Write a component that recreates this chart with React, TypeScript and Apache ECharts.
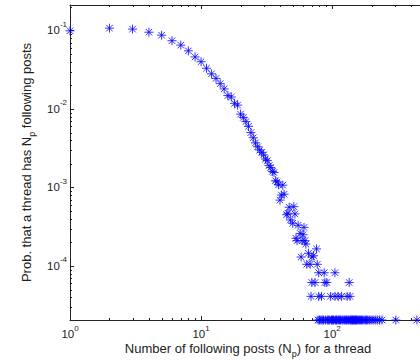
import React, { useEffect, useRef } from 'react';
import * as echarts from 'echarts';

// Number of following posts (Np) and probability that a thread has Np following posts
const numPosts = [
  1, 2, 3, 4, 5, 6, 7, 8, 9, 10,
  11, 12, 13, 14, 15, 16, 17, 18, 19, 20,
  21, 22, 23, 24, 25, 26, 27, 28, 29, 30,
  31, 32, 33, 34, 35, 36, 37, 38, 39, 40,
  41, 42, 43, 45, 46, 47, 48, 50, 51, 52,
  53, 54, 55, 57, 58, 59, 60, 61, 62, 63,
  64, 66, 68, 70, 72, 76, 77,
  79, 87, 105,
  70, 74, 88, 91, 135,
  69, 79, 83, 97, 105, 111, 118, 130, 137,
  78, 80, 82, 84, 86, 89, 92, 94, 96, 99,
  100, 102, 103, 106, 108, 109, 112, 114, 116, 119,
  121, 124, 127, 129, 132, 134, 137, 139, 141, 143,
  145, 147, 149, 151, 153, 155, 158, 161, 164, 167,
  171, 175, 179, 183, 187, 192, 198, 205, 213, 221,
  230, 240, 306, 443,
];
const probability = [
  0.099, 0.107, 0.104, 0.095, 0.087, 0.074, 0.065, 0.055, 0.046, 0.040,
  0.033, 0.028, 0.0245, 0.021, 0.018, 0.0148, 0.0142, 0.0118, 0.0112, 0.0086,
  0.0078, 0.0069, 0.006, 0.005, 0.0043, 0.0037, 0.0033, 0.003, 0.0028, 0.0026,
  0.0023, 0.0022, 0.0019, 0.0018, 0.0016, 0.00155, 0.00122, 0.00118, 0.00108, 0.00069,
  0.0008, 0.00107, 0.00082, 0.00045, 0.00047, 0.00056, 0.000385, 0.00035, 0.00057, 0.00046,
  0.000225, 0.00021, 0.00033, 0.00026, 0.00013, 0.00021, 0.00025, 0.00031, 0.00021, 0.00019,
  0.000105, 0.000145, 0.000105, 0.00013, 0.000135, 0.000165, 0.000105,
  0.000082, 0.000082, 0.000082,
  0.0000615, 0.0000615, 0.0000615, 0.0000615, 0.0000615,
  0.000041, 0.000041, 0.000041, 0.000041, 0.000041, 0.000041, 0.000041, 0.000041, 0.000041,
  0.0000205, 0.0000205, 0.0000205, 0.0000205, 0.0000205, 0.0000205, 0.0000205, 0.0000205, 0.0000205, 0.0000205,
  0.0000205, 0.0000205, 0.0000205, 0.0000205, 0.0000205, 0.0000205, 0.0000205, 0.0000205, 0.0000205, 0.0000205,
  0.0000205, 0.0000205, 0.0000205, 0.0000205, 0.0000205, 0.0000205, 0.0000205, 0.0000205, 0.0000205, 0.0000205,
  0.0000205, 0.0000205, 0.0000205, 0.0000205, 0.0000205, 0.0000205, 0.0000205, 0.0000205, 0.0000205, 0.0000205,
  0.0000205, 0.0000205, 0.0000205, 0.0000205, 0.0000205, 0.0000205, 0.0000205, 0.0000205, 0.0000205, 0.0000205,
  0.0000205, 0.0000205, 0.0000205, 0.0000205,
];

// axis ranges
const X_MIN = 1;
const X_MAX = 520;
const Y_MIN = 0.0000205;
const Y_MAX = 0.211;

// minor (log) tick values
const minorXTicks = [2, 3, 4, 5, 6, 7, 8, 9, 20, 30, 40, 50, 60, 70, 80, 90, 200, 300, 400, 500];
const minorYTicks = [
  0.00003, 0.00004, 0.00005, 0.00006, 0.00007, 0.00008, 0.00009,
  0.0002, 0.0003, 0.0004, 0.0005, 0.0006, 0.0007, 0.0008, 0.0009,
  0.002, 0.003, 0.004, 0.005, 0.006, 0.007, 0.008, 0.009,
  0.02, 0.03, 0.04, 0.05, 0.06, 0.07, 0.08, 0.09,
  0.2,
];

const X_TITLE = 'Number of following posts (N{sub|p}) for a thread';
const Y_TITLE = 'Prob. that a thread has N{sub|p} following posts';

const FONT = '"Liberation Sans", Arial, Helvetica, sans-serif';
const INK = '#222222';
const BLUE = '#0000ff';
const STAR = 'path://M0,-5L0,5M-5,0L5,0M-3.6,-3.6L3.6,3.6M-3.6,3.6L3.6,-3.6';

export default function App() {
  const ref = useRef<HTMLDivElement>(null);

  useEffect(() => {
    const chart = echarts.init(ref.current as HTMLDivElement, null, { renderer: 'svg' });

    const expLabel = (v: number) => `{b|10}{s|${Math.round(Math.log10(v))}}`;
    const labelRich = {
      b: { fontFamily: FONT, fontSize: 11.5, lineHeight: 20, color: INK },
      s: { fontFamily: FONT, fontSize: 8, lineHeight: 10, verticalAlign: 'top', color: INK },
    };
    const titleStyle = {
      fontFamily: FONT,
      fontSize: 13,
      lineHeight: 20,
      color: INK,
      rich: {
        sub: { fontFamily: FONT, fontSize: 9, lineHeight: 10, verticalAlign: 'bottom', color: INK },
      },
    };
    const axisLine = { show: true, onZero: false, lineStyle: { color: INK, width: 1 } };
    const majorTick = { show: true, inside: true, length: 4, lineStyle: { color: INK, width: 1 } };
    const baseX: any = {
      type: 'log', logBase: 10, min: X_MIN, max: X_MAX,
      splitLine: { show: false }, axisLine, axisTick: majorTick,
    };
    const baseY: any = {
      type: 'log', logBase: 10, min: Y_MIN, max: Y_MAX,
      splitLine: { show: false }, axisLine, axisTick: majorTick,
    };
    const tickLine = (x1: number, y1: number, x2: number, y2: number) => ({
      type: 'line',
      shape: { x1, y1, x2, y2 },
      style: { stroke: INK, lineWidth: 1 },
    });

    chart.setOption({
      animation: false,
      backgroundColor: '#ffffff',
      grid: { left: 70, top: 5, width: 356, height: 315, containLabel: false, outerBoundsMode: 'none' },
      xAxis: [
        {
          ...baseX,
          position: 'bottom',
          axisLabel: {
            formatter: expLabel, rich: labelRich, margin: 4,
            showMinLabel: true, showMaxLabel: false,
          },
          name: X_TITLE,
          nameLocation: 'middle',
          nameGap: 18,
          nameMoveOverlap: false,
          nameTextStyle: titleStyle,
        },
        { ...baseX, position: 'top', axisLabel: { show: false } },
      ],
      yAxis: [
        {
          ...baseY,
          position: 'left',
          axisLabel: {
            formatter: expLabel, rich: labelRich, margin: 3,
            showMinLabel: false, showMaxLabel: false,
          },
          name: Y_TITLE,
          nameLocation: 'middle',
          nameGap: 34,
          nameTextStyle: titleStyle,
        },
        { ...baseY, position: 'right', axisLabel: { show: false } },
      ],
      series: [
        {
          type: 'custom',
          coordinateSystem: 'cartesian2d',
          xAxisIndex: 0,
          yAxisIndex: 0,
          silent: true,
          clip: false,
          data: minorXTicks.map((v) => [v, Y_MIN]),
          encode: { x: 0, y: 1 },
          renderItem: (_p: any, api: any) => {
            const v = api.value(0);
            const b = api.coord([v, Y_MIN]);
            const t = api.coord([v, Y_MAX]);
            const x = Math.round(b[0]) + 0.5;
            return {
              type: 'group',
              children: [tickLine(x, b[1], x, b[1] - 2), tickLine(x, t[1], x, t[1] + 2)],
            };
          },
        },
        {
          type: 'custom',
          coordinateSystem: 'cartesian2d',
          xAxisIndex: 0,
          yAxisIndex: 0,
          silent: true,
          clip: false,
          data: minorYTicks.map((v) => [X_MIN, v]),
          encode: { x: 0, y: 1 },
          renderItem: (_p: any, api: any) => {
            const v = api.value(1);
            const l = api.coord([X_MIN, v]);
            const r = api.coord([X_MAX, v]);
            const y = Math.round(l[1]) + 0.5;
            return {
              type: 'group',
              children: [tickLine(l[0], y, l[0] + 2, y), tickLine(r[0], y, r[0] - 2, y)],
            };
          },
        },
        {
          type: 'scatter',
          xAxisIndex: 0,
          yAxisIndex: 0,
          clip: false,
          z: 5,
          data: numPosts.map((n, i) => [n, probability[i]]),
          symbol: STAR,
          symbolSize: 9,
          itemStyle: { color: BLUE, borderColor: BLUE, borderWidth: 1 },
        },
      ],
    });

    return () => chart.dispose();
  }, []);

  return (
    <div
      ref={ref}
      style={{ position: 'fixed', left: 0, top: 0, width: 420, height: 362, background: '#fff' }}
    />
  );
}
